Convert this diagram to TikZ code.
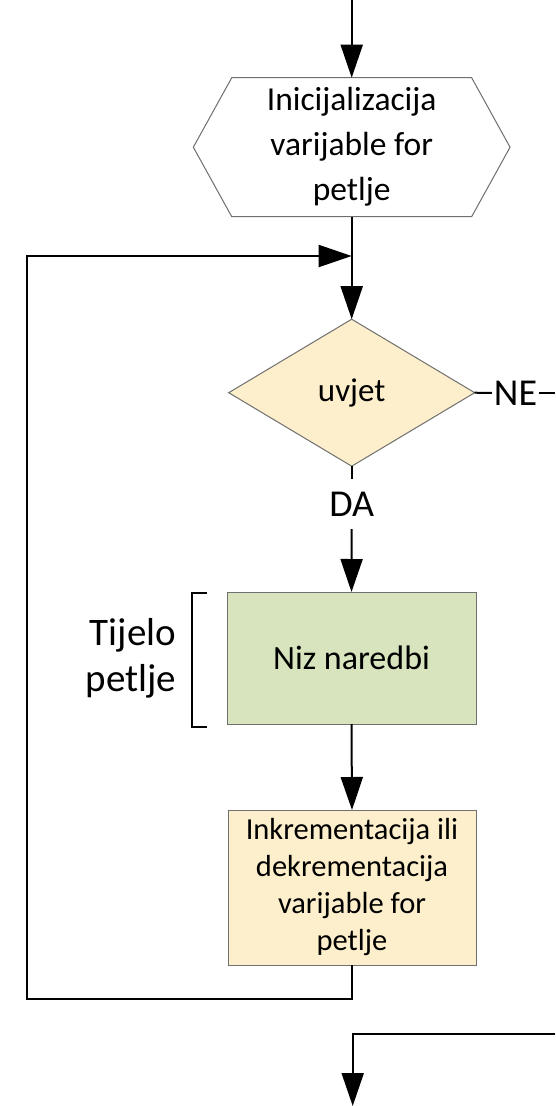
\documentclass[tikz,border=0pt]{standalone}
\usepackage{fontspec}
\setmainfont{Carlito}
\usetikzlibrary{arrows.meta,shapes.geometric,calc}
\definecolor{cream}{HTML}{FDEFCB}
\definecolor{sage}{HTML}{D7E4BD}
\definecolor{edgegray}{HTML}{6F6F6F}
\begin{document}
\begin{tikzpicture}[x=1pt,y=-1pt,
  conn/.style={line width=2pt,black},
  arrowconn/.style={conn,-{Triangle[length=33pt,width=22pt]}},
  boxline/.style={draw=edgegray,line width=1pt},
  txt/.style={inner sep=0pt,outer sep=0pt,align=center,text=black},
  procbox/.style={txt,rectangle,boxline},
  bracketline/.style={line width=2pt,black}]
\useasboundingbox (0,0) rectangle (555,1106);

% initialisation (hexagon outline drawn around a plain node)
\node[txt,minimum width=316.7pt,minimum height=139pt,
      font=\fontsize{33.5}{45}\selectfont] (init) at (351.7,147.2)
  {Inicijalizacija\\varijable for\\petlje};
\draw[boxline,fill=white]
  ($(init.north west)+(38.4,0)$) -- ($(init.north east)+(-38.4,0)$) -- (init.east)
  -- ($(init.south east)+(-38.4,0)$) -- ($(init.south west)+(38.4,0)$) -- (init.west) -- cycle;
\node[txt,minimum width=316.7pt,minimum height=139pt,
      font=\fontsize{33.5}{45}\selectfont] at (init.center)
  {Inicijalizacija\\varijable for\\petlje};

% condition
\node[txt,diamond,boxline,fill=cream,minimum width=246pt,minimum height=147pt,
      font=\fontsize{33}{40}\selectfont] (cond) at (351.7,392.7) {uvjet};

% loop body
\node[procbox,fill=sage,minimum width=249pt,minimum height=132pt,
      font=\fontsize{34}{40}\selectfont] (body) at (351.5,658) {Niz naredbi};

% step of the loop variable
\node[procbox,fill=cream,minimum width=248pt,minimum height=155pt,
      font=\fontsize{30.5}{37}\selectfont] (inc) at (352,887.5)
  {Inkrementacija ili\\dekrementacija\\varijable for\\petlje};

% branch labels
\node[txt,inner xsep=2pt,font=\fontsize{38}{40}\selectfont] (ne) at (515.5,393) {NE};
\node[txt,inner ysep=13pt,font=\fontsize{38}{40}\selectfont] (da) at (351.7,504) {DA};

% body label with bracket
\node[txt,align=right,anchor=east,font=\fontsize{39}{46}\selectfont] (lbl) at (176,658.5)
  {Tijelo\\petlje};
\draw[bracketline] (206.7,593) -- (191.7,593) -- (191.7,726.7) -- (206.7,726.7);

% connectors
\coordinate (entry) at (351.7,0);
\coordinate (join) at (351.7,256);
\coordinate (loopbl) at (27.3,999.3);
\coordinate (looptl) at (27.3,256);
\coordinate (neout) at (555,393);
\coordinate (exitin) at (555,1034.3);
\coordinate (exitout) at (352.7,1106);

\draw[arrowconn] (entry) -- (init.north);
\draw[arrowconn] (init.south) -- (cond.north);
\draw[conn] (cond.east) -- (ne.west);
\draw[conn] (ne.east) -- (neout);
\draw[conn] (cond.south) -- (da.north);
\draw[arrowconn] (da.south) -- (body.north);
\draw[arrowconn] (body.south) -- (inc.north);
\draw[arrowconn] (inc.south) |- (loopbl) -- (looptl) -- (join);
\draw[arrowconn] (exitin) -| (exitout);
\end{tikzpicture}
\end{document}
